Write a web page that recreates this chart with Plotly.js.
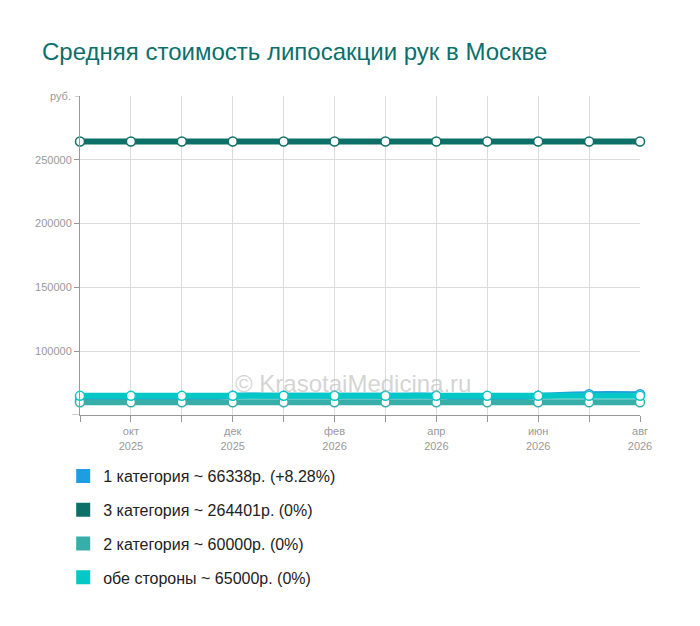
<!DOCTYPE html>
<html>
<head>
<meta charset="utf-8">
<script src="https://cdn.plot.ly/plotly-3.0.1.min.js"></script>
<style>html,body{margin:0;padding:0;background:#fff;}#chart{width:700px;height:626px;}</style>
</head>
<body>
<div id="chart"></div>
<script>
// Data
var months = [0, 1, 2, 3, 4, 5, 6, 7, 8, 9, 10, 11];
var monthLabels = ["", "окт<br>2025", "", "дек<br>2025", "", "фев<br>2026", "", "апр<br>2026", "", "июн<br>2026", "", "авг<br>2026"];
var seriesNames = [
  "1 категория ~ 66338р. (+8.28%)",
  "3 категория ~ 264401р. (0%)",
  "2 категория ~ 60000р. (0%)",
  "обе стороны ~ 65000р. (0%)"
];
var cat1 = [61265, 61265, 61265, 65000, 65000, 65000, 65000, 65000, 61265, 65000, 66338, 66338];
var cat3 = [264401, 264401, 264401, 264401, 264401, 264401, 264401, 264401, 264401, 264401, 264401, 264401];
var cat2 = [60000, 60000, 60000, 60000, 60000, 60000, 60000, 60000, 60000, 60000, 60000, 60000];
var both = [65000, 65000, 65000, 65000, 65000, 65000, 65000, 65000, 65000, 65000, 65000, 65000];
var yTicks = [100000, 150000, 200000, 250000];
var yTickText = ["100000", "150000", "200000", "250000"];
var colors = ["#1e9ee0", "#0c7068", "#37aea8", "#05c8c6"];
var seriesValues = [cat1, cat3, cat2, both];

var traces = [];
seriesValues.forEach(function (vals, i) {
  traces.push({
    x: months, y: vals, type: "scatter", mode: "lines+markers",
    line: {color: colors[i], width: 6, shape: "spline", smoothing: 1},
    marker: {size: 9, color: "#ffffff", line: {color: colors[i], width: 1.5}},
    showlegend: false, hoverinfo: "skip", cliponaxis: false
  });
});
seriesValues.forEach(function (vals, i) {
  traces.push({
    x: [null], y: [null], type: "scatter", mode: "markers",
    name: seriesNames[i], legendgroup: "g" + i,
    marker: {symbol: "square", size: 14, color: colors[i]},
    showlegend: true
  });
});

var layout = {
  width: 700, height: 626,
  margin: {l: 80, r: 60, t: 96, b: 211},
  paper_bgcolor: "#ffffff", plot_bgcolor: "#ffffff",
  font: {family: "Liberation Sans, Arial, sans-serif", color: "#999999", size: 11},
  title: {text: "Средняя стоимость липосакции рук в Москве", x: 0.06, xref: "container", xanchor: "left",
          y: 0.918, yref: "container", yanchor: "middle",
          font: {size: 24, color: "#0b706b", family: "Liberation Sans, Arial, sans-serif"}},
  xaxis: {
    range: [0, 11], tickvals: months, ticktext: monthLabels, tickmode: "array",
    showgrid: true, gridcolor: "#dcdcdc", gridwidth: 1,
    showline: true, linecolor: "#999999", linewidth: 1,
    ticks: "outside", ticklen: 6, tickcolor: "#999999",
    tickfont: {size: 11, color: "#999999"}, zeroline: false, fixedrange: true
  },
  yaxis: {
    range: [50000, 300000], tickvals: yTicks, ticktext: yTickText, tickmode: "array",
    showgrid: true, gridcolor: "#dcdcdc", gridwidth: 1,
    showline: true, linecolor: "#999999", linewidth: 1,
    ticks: "outside", ticklen: 5, tickcolor: "#999999",
    tickfont: {size: 11, color: "#999999"}, zeroline: false, fixedrange: true
  },
  shapes: [
    {type: "line", xref: "paper", yref: "y", x0: -0.009, x1: 0, y0: 300000, y1: 300000,
     line: {color: "#999999", width: 1}},
    {type: "line", xref: "paper", yref: "y", x0: -0.014, x1: 0, y0: 50000, y1: 50000,
     line: {color: "#999999", width: 1}}
  ],
  annotations: [
    {text: "руб.", xref: "paper", yref: "y", x: -0.012, y: 300000, xanchor: "right", yanchor: "middle",
     showarrow: false, font: {size: 11, color: "#999999"}},
    {text: "© KrasotaiMedicina.ru", xref: "paper", yref: "paper", x: 0.487, y: 0.1, xanchor: "center", yanchor: "middle",
     showarrow: false, font: {size: 24, color: "rgba(175,175,175,0.55)"}}
  ],
  legend: {
    orientation: "v", x: -0.03, xanchor: "left", y: -0.138, yanchor: "top",
    font: {size: 16, color: "#222222"}, tracegroupgap: 10, bgcolor: "rgba(0,0,0,0)"
  },
  showlegend: true
};

Plotly.newPlot("chart", traces, layout, {displayModeBar: false, staticPlot: true});
</script>
</body>
</html>
